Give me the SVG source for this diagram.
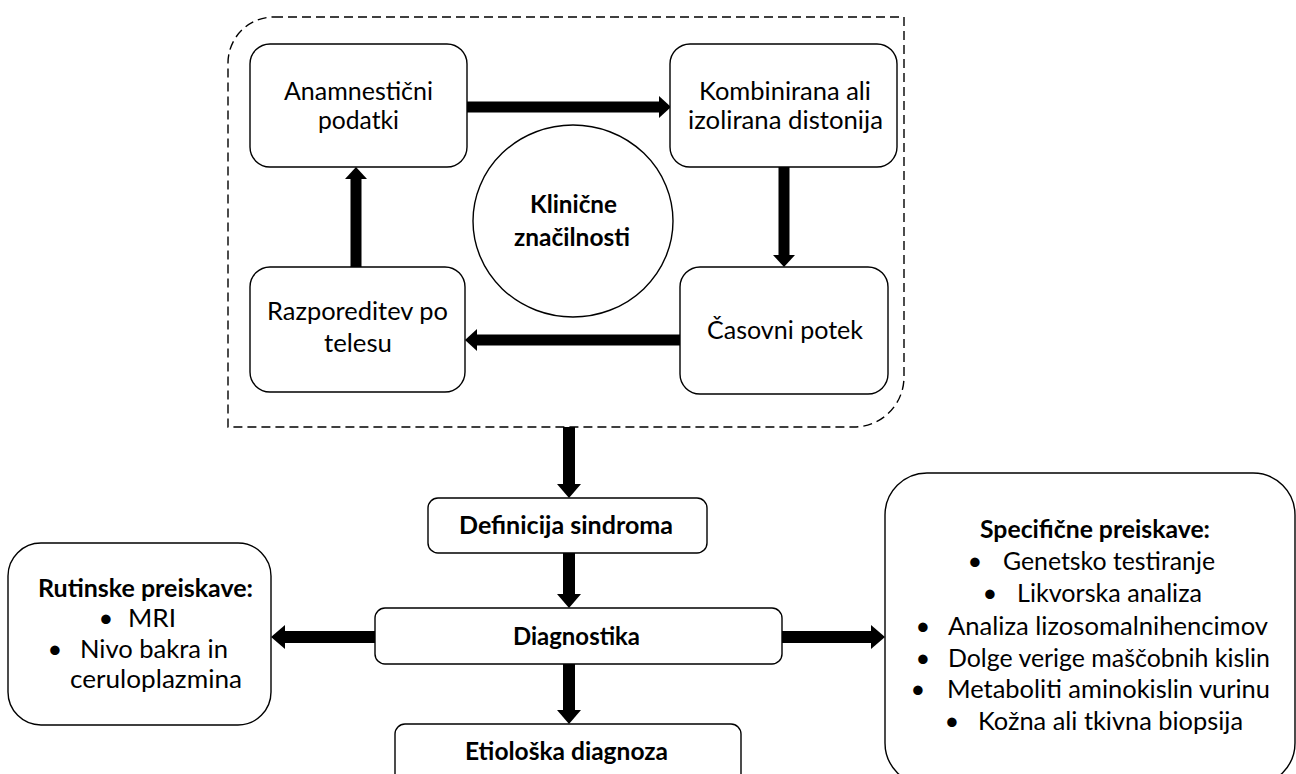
<svg xmlns="http://www.w3.org/2000/svg" width="1296" height="774" viewBox="0 0 1296 774">
<defs>
<style>
.box{fill:#fff;stroke:#000;stroke-width:1.4}
.dash{fill:none;stroke:#000;stroke-width:1.4;stroke-dasharray:9 5}
.t{font-family:Lato,"Open Sans","Liberation Sans",sans-serif;font-size:25.5px;fill:#000}
.b{font-family:Lato,"Open Sans","Liberation Sans",sans-serif;font-size:25.5px;font-weight:bold;fill:#000}
.c{stroke:#000;fill:none;stroke-linecap:butt}
.s{stroke-width:11;marker-end:url(#ahS)}
.l{stroke-width:12;marker-end:url(#ahL)}
</style>
<marker id="ahS" markerUnits="userSpaceOnUse" markerWidth="13" markerHeight="22" refX="0" refY="11" orient="auto"><path d="M0,0 L12,11 L0,22 Z" fill="#000"/></marker>
<marker id="ahL" markerUnits="userSpaceOnUse" markerWidth="15" markerHeight="24" refX="0" refY="12" orient="auto"><path d="M0,0 L14,12 L0,24 Z" fill="#000"/></marker>
</defs>
<rect width="1296" height="774" fill="#fff"/>
<g id="container">
<path class="dash" d="M274,17 L904,17 L904,377 A50,50 0 0 1 854,427 L228,427 L228,63 A46,46 0 0 1 274,17 Z"/>
</g>
<g id="connectors">
<line class="c s" x1="467" y1="107" x2="659" y2="107"/>
<line class="c s" x1="784" y1="167" x2="784" y2="255"/>
<line class="c s" x1="680" y1="340" x2="477" y2="340"/>
<line class="c s" x1="356" y1="267" x2="356" y2="179"/>
<line class="c l" x1="569" y1="427" x2="569" y2="484"/>
<line class="c l" x1="569" y1="553" x2="569" y2="594"/>
<line class="c l" x1="375" y1="637" x2="285" y2="637"/>
<line class="c l" x1="782" y1="637" x2="871" y2="637"/>
<line class="c l" x1="569" y1="664" x2="569" y2="710"/>
</g>
<g id="anamnesticni">
<rect class="box" x="250" y="44" width="217" height="123" rx="20"/>
<text class="t" x="284" y="100" textLength="149" lengthAdjust="spacingAndGlyphs">Anamnestični</text>
<text class="t" x="318" y="129" textLength="81" lengthAdjust="spacingAndGlyphs">podatki</text>
</g>
<g id="kombinirana">
<rect class="box" x="670" y="44" width="227" height="123" rx="20"/>
<text class="t" x="699" y="100" textLength="172" lengthAdjust="spacingAndGlyphs">Kombinirana ali</text>
<text class="t" x="688" y="129" textLength="195" lengthAdjust="spacingAndGlyphs">izolirana distonija</text>
</g>
<g id="klinicne">
<ellipse class="box" cx="573" cy="221" rx="100" ry="96"/>
<text class="b" x="530" y="213" textLength="87" lengthAdjust="spacingAndGlyphs">Klinične</text>
<text class="b" x="514" y="246" textLength="116" lengthAdjust="spacingAndGlyphs">značilnosti</text>
</g>
<g id="razporeditev">
<rect class="box" x="250" y="267" width="215" height="125" rx="20"/>
<text class="t" x="267" y="320" textLength="181" lengthAdjust="spacingAndGlyphs">Razporeditev po</text>
<text class="t" x="324" y="352" textLength="68" lengthAdjust="spacingAndGlyphs">telesu</text>
</g>
<g id="casovni">
<rect class="box" x="680" y="267" width="208" height="127" rx="20"/>
<text class="t" x="707" y="339" textLength="156" lengthAdjust="spacingAndGlyphs">Časovni potek</text>
</g>
<g id="definicija">
<rect class="box" x="428" y="498" width="279" height="55" rx="10"/>
<text class="b" x="459" y="534" textLength="214" lengthAdjust="spacingAndGlyphs">Definicija sindroma</text>
</g>
<g id="diagnostika">
<rect class="box" x="375" y="608" width="407" height="56" rx="10"/>
<text class="b" x="513" y="645" textLength="127" lengthAdjust="spacingAndGlyphs">Diagnostika</text>
</g>
<g id="etioloska">
<rect class="box" x="395" y="724" width="346" height="70" rx="10"/>
<text class="b" x="465" y="760" textLength="203" lengthAdjust="spacingAndGlyphs">Etiološka diagnoza</text>
</g>
<g id="rutinske">
<rect class="box" x="8" y="543" width="263" height="182" rx="33"/>
<text class="b" x="38" y="597" textLength="215" lengthAdjust="spacingAndGlyphs">Rutinske preiskave:</text>
<text class="t" x="106" y="627" text-anchor="middle">•</text>
<text class="t" x="128" y="627" textLength="48" lengthAdjust="spacingAndGlyphs">MRI</text>
<text class="t" x="55" y="658" text-anchor="middle">•</text>
<text class="t" x="80" y="658" textLength="148" lengthAdjust="spacingAndGlyphs">Nivo bakra in</text>
<text class="t" x="70" y="688" textLength="172" lengthAdjust="spacingAndGlyphs">ceruloplazmina</text>
</g>
<g id="specificne">
<rect class="box" x="885" y="473" width="410" height="312" rx="42"/>
<text class="b" x="980" y="538" textLength="230" lengthAdjust="spacingAndGlyphs">Specifične preiskave:</text>
<text class="t" x="975" y="570" text-anchor="middle">•</text>
<text class="t" x="1003" y="570" textLength="212" lengthAdjust="spacingAndGlyphs">Genetsko testiranje</text>
<text class="t" x="990" y="602" text-anchor="middle">•</text>
<text class="t" x="1017" y="602" textLength="185" lengthAdjust="spacingAndGlyphs">Likvorska analiza</text>
<text class="t" x="923" y="635" text-anchor="middle">•</text>
<text class="t" x="948" y="635" textLength="320" lengthAdjust="spacingAndGlyphs">Analiza lizosomalnihencimov</text>
<text class="t" x="923" y="667" text-anchor="middle">•</text>
<text class="t" x="948" y="667" textLength="322" lengthAdjust="spacingAndGlyphs">Dolge verige maščobnih kislin</text>
<text class="t" x="918" y="698" text-anchor="middle">•</text>
<text class="t" x="947" y="698" textLength="323" lengthAdjust="spacingAndGlyphs">Metaboliti aminokislin vurinu</text>
<text class="t" x="952" y="730" text-anchor="middle">•</text>
<text class="t" x="978" y="730" textLength="265" lengthAdjust="spacingAndGlyphs">Kožna ali tkivna biopsija</text>
</g>
</svg>
